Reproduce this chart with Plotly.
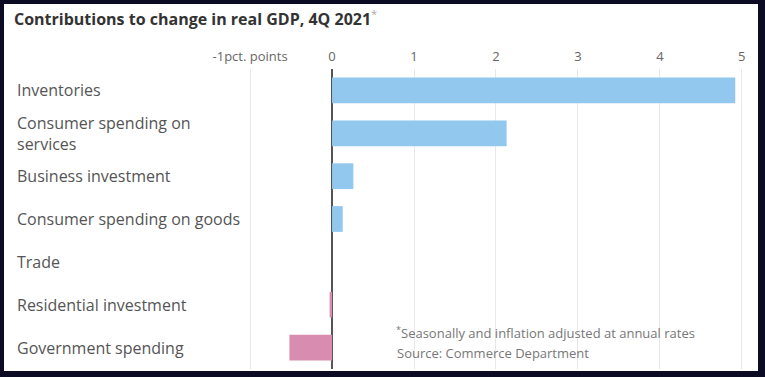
import plotly.graph_objects as go

categories = [
    "Inventories",
    "Consumer spending on<br>services",
    "Business investment",
    "Consumer spending on goods",
    "Trade",
    "Residential investment",
    "Government spending",
]
values = [4.92, 2.13, 0.26, 0.13, 0.0, -0.03, -0.52]
tick_vals = [-1, 0, 1, 2, 3, 4, 5]
tick_text = ["-1pct. points", "0", "1", "2", "3", "4", "5"]

POS = "#93c8ee"
NEG = "#d88db0"
FONT = "Open Sans"

W, H = 765, 377
L, R, T, B = 246, 15, 69, 8
PW, PH = W - L - R, H - T - B


def px(x):
    return (x - L) / PW


def py(y):
    return (H - B - y) / PH


fig = go.Figure()
fig.add_trace(go.Bar(
    x=values,
    y=categories,
    orientation="h",
    marker=dict(color=[POS if v >= 0 else NEG for v in values], line=dict(width=0)),
    width=0.6,
    hoverinfo="x+y",
))

annotations = []
for c in categories:
    annotations.append(dict(
        x=px(15), xref="paper", y=c, yref="y",
        text=c, showarrow=False, xanchor="left", yanchor="middle", align="left",
        font=dict(family=FONT, size=16, color="#555555"),
    ))
annotations.append(dict(
    x=px(12), xref="paper", y=py(18), yref="paper",
    text="<b>Contributions to change in real GDP, 4Q 2021</b><sup><span style='color:#aaaaaa'>*</span></sup>",
    showarrow=False, xanchor="left", yanchor="middle",
    font=dict(family=FONT, size=16, color="#333333"),
))
annotations.append(dict(
    x=px(394), xref="paper", y=py(332), yref="paper",
    text="<sup>*</sup>Seasonally and inflation adjusted at annual rates",
    showarrow=False, xanchor="left", yanchor="middle",
    font=dict(family=FONT, size=13, color="#777777"),
))
annotations.append(dict(
    x=px(395), xref="paper", y=py(353), yref="paper",
    text="Source: Commerce Department",
    showarrow=False, xanchor="left", yanchor="middle",
    font=dict(family=FONT, size=13, color="#777777"),
))

fig.update_layout(
    width=W, height=H,
    margin=dict(l=L, r=R, t=T, b=B, pad=0),
    paper_bgcolor="#0b0b24",
    plot_bgcolor="rgba(0,0,0,0)",
    showlegend=False,
    bargap=0.4,
    annotations=annotations,
    shapes=[dict(
        type="rect", xref="paper", yref="paper",
        x0=px(4), x1=px(758), y0=py(371), y1=py(4),
        fillcolor="white", line=dict(width=0), layer="below",
    )],
    xaxis=dict(
        side="top", range=[-1.05, 5.1],
        tickvals=tick_vals, ticktext=tick_text,
        tickfont=dict(family=FONT, size=13, color="#666666"),
        ticklabelstandoff=4,
        showgrid=True, gridcolor="#e8e8e8", gridwidth=1,
        zeroline=True, zerolinecolor="#555555", zerolinewidth=1.5,
        showline=False, ticks="", fixedrange=True,
    ),
    yaxis=dict(
        autorange="reversed", showticklabels=False, showgrid=False,
        zeroline=False, showline=False, ticks="", fixedrange=True,
    ),
)

fig.write_html(
    "out.html",
    config={"displayModeBar": False},
    post_script="document.body.style.margin='0';document.body.style.padding='0';",
)
